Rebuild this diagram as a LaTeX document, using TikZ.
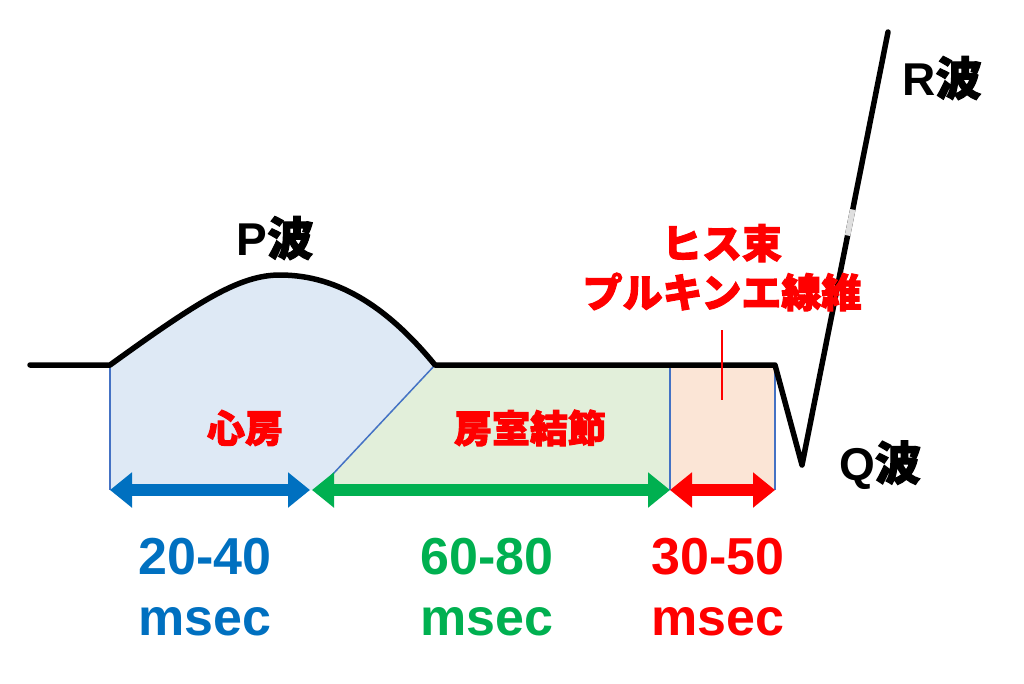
\documentclass[tikz,border=0pt]{standalone}
\usepackage{fontspec}
\setmainfont{Liberation Sans}
\newfontfamily\cjk{Noto Sans CJK JP}[FakeBold=2.5]
\usetikzlibrary{arrows.meta,calc}
\definecolor{myblue}{HTML}{0070C0}
\definecolor{mygreen}{HTML}{00B050}
\definecolor{myred}{HTML}{FF0000}
\definecolor{edge}{HTML}{4472C4}
\tikzset{
 lbl/.style={font=\fontsize{#1}{#1}\selectfont\bfseries, inner sep=0pt},
 dur/.style={line width=12pt, {Triangle[length=22pt,width=34pt]}-{Triangle[length=22pt,width=34pt]}},
 region/.style={draw=edge, line width=1.5pt}
}
\begin{document}
\begin{tikzpicture}[x=1pt,y=-1pt]
\useasboundingbox (0,0) rectangle (1024,683);
% regions
\fill[fill={rgb,255:red,222;green,233;blue,245}] (110,365) .. controls (200,300) and (240,275) .. (280,275) .. controls (340,275) and (390,310) .. (435,365) -- (318,490) -- (110,490) -- cycle;
\fill[fill={rgb,255:red,226;green,239;blue,218}] (435,365) -- (670,365) -- (670,490) -- (318,490) -- cycle;
\fill[fill={rgb,255:red,251;green,229;blue,214}] (670,365) rectangle (775,490);
\draw[region] (110,365) -- (110,490);
\draw[region] (435,365) -- (318,490);
\draw[region] (670,365) -- (670,490);
\draw[region] (775,365) -- (775,490);
% ECG trace
\coordinate (s) at (30,365);
\coordinate (p0) at (110,365);
\coordinate (p1) at (435,365);
\coordinate (q0) at (775,365);
\coordinate (q) at (802,465);
\coordinate (r) at (888,32);
\draw[line width=5.5pt, line join=round, line cap=round] (s) -- (p0) .. controls (200,300) and (240,275) .. (280,275) .. controls (340,275) and (390,310) .. (p1) -- (q0) -- (q) -- (r);
\draw[line width=5.5pt, gray!25] ($(q)!0.53!(r)$) -- ($(q)!0.59!(r)$);
% tick
\coordinate (t1) at (722,330);
\coordinate (t2) at (722,400);
\draw[myred, line width=2.5pt] (t1) -- (t2);
% arrows
\coordinate (a0) at (110,490); \coordinate (a1) at (310,490);
\coordinate (b0) at (312,490); \coordinate (b1) at (670,490);
\coordinate (c0) at (670,490); \coordinate (c1) at (775,490);
\draw[dur, myblue] (a0) -- (a1);
\draw[dur, mygreen] (b0) -- (b1);
\draw[dur, myred] (c0) -- (c1);
% labels
\node[lbl=46] (P) at (275,238) {P{\cjk 波}};
\node[lbl=46] (R) at (942,78) {R{\cjk 波}};
\node[lbl=46] (Q) at (880,465) {Q{\cjk 波}};
\node[lbl=38, myred] (at) at (245,428) {{\cjk 心房}};
\node[lbl=38, myred] (av) at (530,428) {{\cjk 房室結節}};
\node[lbl=40, myred] (his) at (722,243) {{\cjk ヒス束}};
\node[lbl=40, myred] (pk) at (722,292) {{\cjk プルキンエ線維}};
\node[lbl=52, myblue] (n1) at (205,557) {20-40};
\node[lbl=52, myblue] (m1) at (205,622) {msec};
\node[lbl=52, mygreen] (n2) at (487,557) {60-80};
\node[lbl=52, mygreen] (m2) at (487,622) {msec};
\node[lbl=52, myred] (n3) at (718,557) {30-50};
\node[lbl=52, myred] (m3) at (718,622) {msec};
\end{tikzpicture}
\end{document}
